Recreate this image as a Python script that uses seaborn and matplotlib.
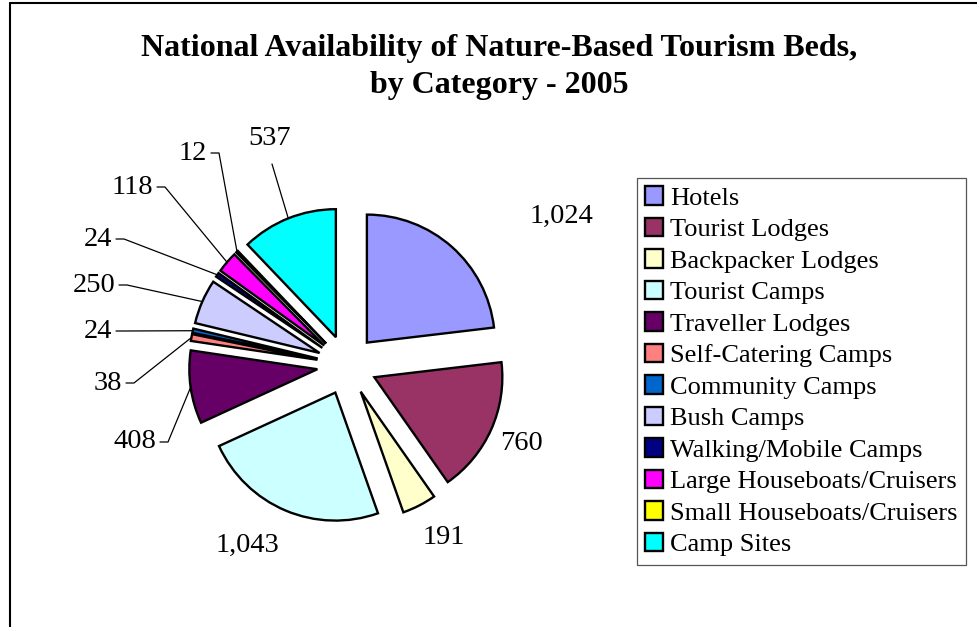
import matplotlib
matplotlib.use("Agg")
import matplotlib.pyplot as plt
from matplotlib.lines import Line2D
import numpy as np
import seaborn as sns

# data
categories = ["Hotels", "Tourist Lodges", "Backpacker Lodges", "Tourist Camps",
              "Traveller Lodges", "Self-Catering Camps", "Community Camps",
              "Bush Camps", "Walking/Mobile Camps", "Large Houseboats/Cruisers",
              "Small Houseboats/Cruisers", "Camp Sites"]
beds = [1024, 760, 191, 1043, 408, 38, 24, 250, 24, 118, 12, 537]
colors = ["#9999FF", "#993366", "#FFFFCC", "#CCFFFF", "#660066", "#FF8080",
          "#0066CC", "#CCCCFF", "#000080", "#FF00FF", "#FFFF00", "#00FFFF"]

# label layout in pixels: (x, y, anchor, leader)
label_pos = [(561, 216, "center", False), (521, 443, "center", False),
             (444, 537, "center", False), (247, 545, "center", False),
             (156, 442, "right", True), (122, 383, "right", True),
             (112, 331, "right", True), (115, 285, "right", True),
             (112, 239, "right", True), (153, 187, "right", True),
             (207, 153, "right", True), (270, 138, "top", True)]

sns.set_theme(style="white")
plt.rcParams["font.family"] = ["Liberation Serif", "DejaVu Serif"]
plt.rcParams["text.color"] = "black"

W, H = 978, 627
cx, cy, R = 347, 365, 128
fig = plt.figure(figsize=(W / 100, H / 100), dpi=100)
ax = fig.add_axes([0, 0, 1, 1])

wedges, _ = ax.pie(beds, colors=colors, startangle=90, counterclock=False,
                   explode=[0.234] * len(beds), radius=1,
                   wedgeprops=dict(edgecolor="black", linewidth=1.7))
ax.set_xlim(-cx / R, (W - cx) / R)
ax.set_ylim(-(H - cy) / R, cy / R)
ax.set_aspect("equal")
ax.axis("off")


def px(x, y):
    return (x - cx) / R, (cy - y) / R


for w, v, (lx, ly, anc, lead) in zip(wedges, beds, label_pos):
    txt = f"{v:,}"
    tx, ty = px(lx, ly)
    ha = "right" if anc == "right" else "center"
    ax.text(tx, ty, txt, ha=ha, va="center", fontsize=20.5)
    if lead:
        mid = np.deg2rad((w.theta1 + w.theta2) / 2)
        ex, ey = w.center[0] + w.r * np.cos(mid), w.center[1] + w.r * np.sin(mid)
        if anc == "right":
            x0, y0 = px(lx + 4, ly)
            x1, y1 = px(lx + 12, ly)
            ax.plot([x0, x1, ex], [y0, y1, ey], color="black", lw=0.9)
        else:
            x0, y0 = px(lx + 2, ly + 26)
            ax.plot([x0, ex], [y0, ey], color="black", lw=0.9)

fig.suptitle("National Availability of Nature-Based Tourism Beds,\nby Category - 2005",
             x=499 / W, y=1 - 34 / H, fontsize=23, fontweight="bold",
             linespacing=1.36, va="top")

leg = fig.legend(wedges, categories, loc="upper left",
                 bbox_to_anchor=(637 / W, 1 - 178 / H), fontsize=19,
                 frameon=True, fancybox=False, framealpha=1,
                 handlelength=0.68, handleheight=0.68, handletextpad=0.25,
                 labelspacing=0.31, borderpad=0.32, borderaxespad=0)
leg.get_frame().set_edgecolor("#555555")
leg.get_frame().set_linewidth(0.9)

# chart area border (left and top edges only visible)
fig.add_artist(Line2D([9.5 / W, 9.5 / W], [0, 1 - 3 / H], color="black", lw=1.5,
                      transform=fig.transFigure))
fig.add_artist(Line2D([9.5 / W, 1], [1 - 3 / H, 1 - 3 / H], color="black", lw=1.5,
                      transform=fig.transFigure))

fig.savefig("out.png", dpi=100)
